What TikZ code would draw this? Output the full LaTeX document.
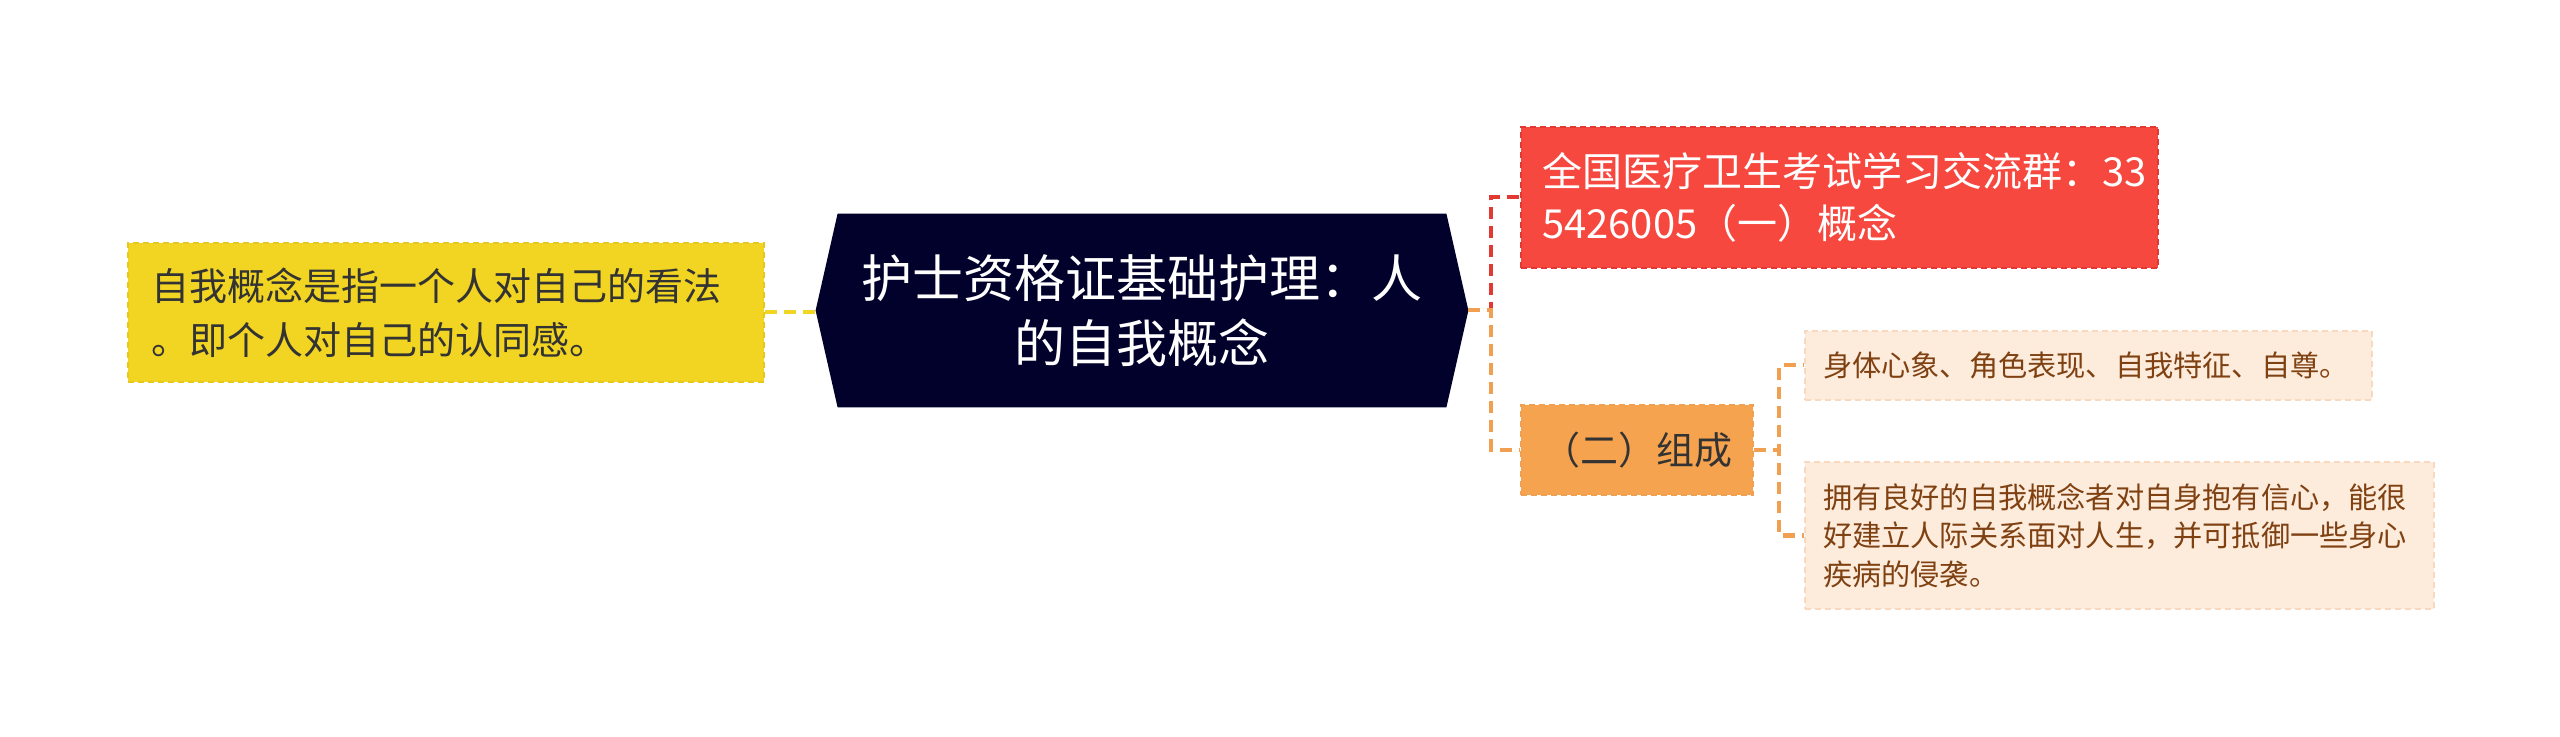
\documentclass[tikz,border=0pt]{standalone}
\usepackage{fontspec}
\setmainfont{Noto Sans CJK SC}
\usepackage{tikz}
\usetikzlibrary{backgrounds}

\definecolor{rootfill}{HTML}{01012B}
\definecolor{yellowfill}{HTML}{F2D522}
\definecolor{yellowline}{HTML}{E6C81E}
\definecolor{redfill}{HTML}{F7483F}
\definecolor{redline}{HTML}{E23A33}
\definecolor{orangefill}{HTML}{F5A34F}
\definecolor{orangeline}{HTML}{F0A050}
\definecolor{leaffill}{HTML}{FDEBDC}
\definecolor{leafline}{HTML}{F8D8BE}
\definecolor{leaftext}{HTML}{7F4112}
\definecolor{darktext}{HTML}{333333}

\begin{document}
\begin{tikzpicture}[x=0.5pt, y=-0.5pt,
      box/.style = {rectangle, anchor=west, align=left, inner ysep=0pt,
                    line width=1pt, dash pattern=on 3pt off 2pt},
      link/.style = {line width=2pt, dash pattern=on 6pt off 3.5pt}]

  \useasboundingbox (0,0) rectangle (2560,737);

  % Root
  \node[text=white, align=center, inner sep=0pt,
        minimum width=326pt, minimum height=96.5pt,
        font=\fontsize{25.5pt}{32.5pt}\selectfont] (root) at (1142,310.5)
        {护士资格证基础护理：人\\的自我概念};
  \begin{scope}[on background layer]
    \fill[rootfill] (root.west) -- ([xshift=11pt]root.north west)
      -- ([xshift=-11pt]root.north east) -- (root.east)
      -- ([xshift=-11pt]root.south east) -- ([xshift=11pt]root.south west) -- cycle;
  \end{scope}

  % Left branch
  \node[box, draw=yellowline, fill=yellowfill, text=darktext,
        inner xsep=11.5pt, text width=295pt, minimum height=69.5pt,
        font=\fontsize{19pt}{27pt}\selectfont] (yellowbox) at (127,312.5)
        {自我概念是指一个人对自己的看法\\。即个人对自己的认同感。};

  % Right branch
  \node[box, draw=redline, fill=redfill, text=white,
        inner xsep=10.5pt, text width=297.5pt, minimum height=70.5pt,
        font=\fontsize{20pt}{26pt}\selectfont] (redbox) at (1520,197.5)
        {全国医疗卫生考试学习交流群：33\\5426005（一）概念};
  \node[box, draw=orangeline, fill=orangefill, text=darktext, align=center,
        inner xsep=0pt, minimum width=116pt, minimum height=45pt,
        font=\fontsize{19pt}{24pt}\selectfont] (partbox) at (1520,450)
        {（二）组成};

  % Leaves
  \node[box, draw=leafline, fill=leaffill, text=leaftext,
        inner xsep=9pt, text width=265.5pt, minimum height=34.5pt,
        font=\fontsize{14.6pt}{19.3pt}\selectfont] (leafa) at (1804,365.5)
        {身体心象、角色表现、自我特征、自尊。};
  \node[box, draw=leafline, fill=leaffill, text=leaftext,
        inner xsep=9pt, text width=296.5pt, minimum height=73.5pt,
        font=\fontsize{14.6pt}{19.3pt}\selectfont] (leafb) at (1804,535.5)
        {拥有良好的自我概念者对自身抱有信心，能很\\好建立人际关系面对人生，并可抵御一些身心\\疾病的侵袭。};

  % Connectors
  \draw[link, yellowfill] (yellowbox.east) -- (yellowbox.east -| root.west);
  \draw[link, redline] (root.east) -- ++(23,0) |- (redbox.west);
  \draw[link, orangeline] (root.east) -- ++(23,0) |- (partbox.west);
  \draw[link, orangeline] (partbox.east) -- ++(25,0) |- (leafa.west);
  \draw[link, orangeline] (partbox.east) -- ++(25,0) |- (leafb.west);

\end{tikzpicture}
\end{document}
